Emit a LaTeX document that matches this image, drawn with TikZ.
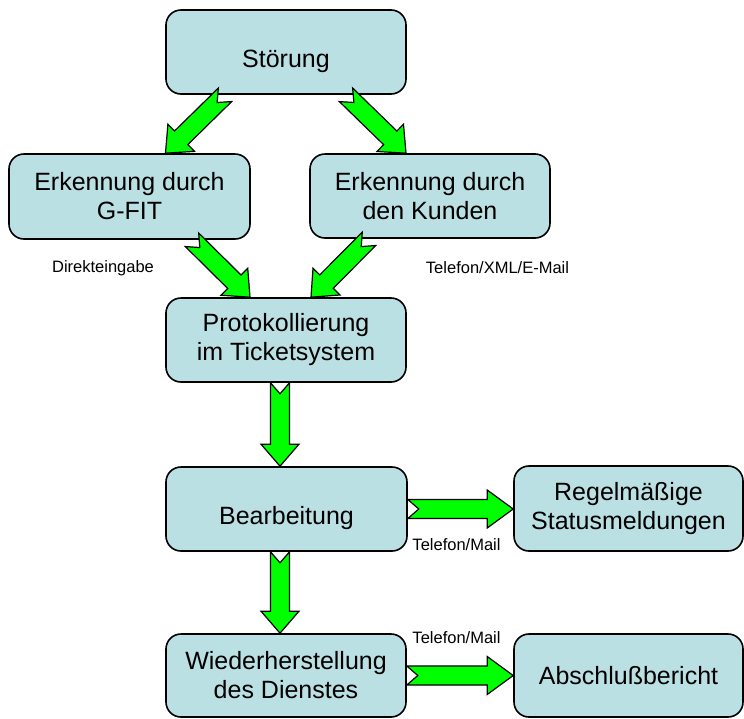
\documentclass[tikz,border=0pt]{standalone}
\usepackage{fontspec}
\setmainfont{Liberation Sans}
\usepackage{tikz}
\usetikzlibrary{calc}

\definecolor{box_blue}{RGB}{187,224,227}
\definecolor{arrow_green}{RGB}{0,255,0}

% notched block arrow from #2 to #3, head length #1
\newcommand{\blockarrow}[3][22pt]{%
  \coordinate (s) at #2;
  \coordinate (t) at #3;
  \coordinate (h) at ($(t)!#1!(s)$);
  \draw [edge_style] ($(s)!9.5pt!90:(t)$) -- ($(s)!11pt!(t)$) -- ($(s)!9.5pt!-90:(t)$)
    -- ($(h)!9.5pt!-90:(t)$) -- ($(h)!19pt!-90:(t)$) -- (t)
    -- ($(h)!19pt!90:(t)$) -- ($(h)!9.5pt!90:(t)$) -- cycle;
}

\begin{document}
\begin{tikzpicture}[x=1pt, y=-1pt,
        node_style/.style={draw=black, line width=1.6pt, fill=box_blue, rounded corners=15pt,
            font=\fontsize{25}{29}\selectfont},
        low_text_style/.style={text height=36pt, text depth=5pt},
        label_style/.style={font=\fontsize{16.5}{19}\selectfont, inner sep=0pt},
        edge_style/.style={draw=black, line width=1.2pt, fill=arrow_green, line join=miter}]

        \useasboundingbox (0,0) rectangle (744,718);

        \node [node_style, low_text_style, minimum width=240, minimum height=84](n1) at (286,52) {Störung};

        \node [node_style, align=center, minimum width=241, minimum height=85](n2) at (129.5,196.5) {Erkennung durch\\G-FIT};

        \node [node_style, align=center, minimum width=240, minimum height=84](n3) at (430,196) {Erkennung durch\\den Kunden};

        \node [node_style, align=center, minimum width=240, minimum height=84](n4) at (286,340) {Protokollierung\\im Ticketsystem};

        \node [node_style, low_text_style, minimum width=241, minimum height=84](n5) at (286.5,509) {Bearbeitung};

        \node [node_style, align=center, minimum width=229, minimum height=85](n6) at (628.5,508.5) {Regelmäßige\\Statusmeldungen};

        \node [node_style, align=center, minimum width=240, minimum height=83](n7) at (286,675.5) {Wiederherstellung\\des Dienstes};

        \node [node_style, minimum width=229, minimum height=83](n8) at (628.5,675.5) {Abschlußbericht};

        \node [label_style](l1) at (103,268) {Direkteingabe};

        \node [label_style](l2) at (497.5,268) {Telefon/XML/E-Mail};

        \node [label_style](l3) at (456.5,545) {Telefon/Mail};

        \node [label_style](l4) at (456.5,638) {Telefon/Mail};

        \blockarrow{($(n1.south)+(-61,0)$)}{($(n2.north)+(36,0)$)}

        \blockarrow{($(n1.south)+(60,0)$)}{($(n3.north)+(-24,0)$)}

        \blockarrow{($(n2.south)+(62.5,0)$)}{($(n4.north)+(-36,0)$)}

        \blockarrow{($(n3.south)+(-61,0)$)}{($(n4.north)+(25,0)$)}

        \blockarrow{($(n4.south)+(-6,0)$)}{($(n5.north)+(-6.5,0)$)}

        \blockarrow{($(n5.south)+(-6.5,0)$)}{($(n7.north)+(-6,0)$)}

        \blockarrow[26pt]{(n5.east)}{(n5.east -| n6.west)}

        \blockarrow[26pt]{(n7.east)}{(n8.west)}

\end{tikzpicture}
\end{document}
